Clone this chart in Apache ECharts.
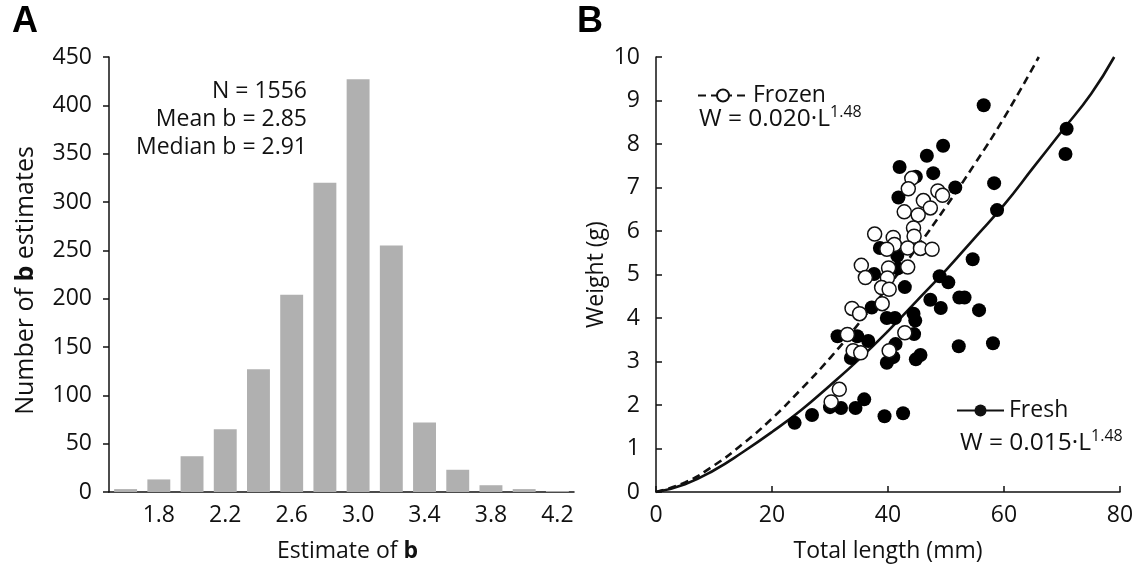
<!DOCTYPE html>
<html>
<head>
<meta charset="utf-8">
<script src="https://cdn.jsdelivr.net/npm/echarts@6/dist/echarts.min.js"></script>
<style>
  html, body { margin: 0; padding: 0; background: #fff; }
  #chart { width: 1140px; height: 568px; }
</style>
</head>
<body>
<div id="chart"></div>
<script>
// ---------- Panel A data (histogram of b estimates) ----------
const binLabels = ['1.6','1.8','2.0','2.2','2.4','2.6','2.8','3.0','3.2','3.4','3.6','3.8','4.0','4.2'];
const binCounts = [3, 13, 37, 65, 127, 204, 320, 427, 255, 72, 23, 7, 3, 1];
const statsLines = ['N = 1556', 'Mean b = 2.85', 'Median b = 2.91'];

// ---------- Panel B data (length-weight) ----------
// fitted curves
const frozenCurveL = [0, 5, 10, 15, 20, 25, 30, 35, 40, 45, 50, 55, 60, 66];
const frozenCurveW = [0, 0.22, 0.61, 1.11, 1.69, 2.36, 3.08, 3.88, 4.72, 5.62, 6.56, 7.55, 8.6, 10];
const freshCurveL  = [0, 5, 10, 15, 20, 25, 30, 35, 40, 45, 50, 55, 60, 65, 70, 75, 79];
const freshCurveW  = [0, 0.18, 0.5, 0.92, 1.38, 1.88, 2.45, 3.05, 3.7, 4.4, 5.1, 5.85, 6.6, 7.45, 8.3, 9.15, 10];

// observations: [total length (mm), weight (g)]
const frozenPoints = [
  [44.1,7.21],[43.5,6.97],[48.6,6.92],[49.4,6.82],[46.1,6.70],[47.3,6.53],[42.8,6.44],
  [45.2,6.37],[44.4,6.07],[44.5,5.88],[37.7,5.93],[40.9,5.85],[41.1,5.69],[43.4,5.61],
  [45.6,5.60],[47.6,5.58],[39.8,5.58],[35.4,5.21],[40.1,5.15],[43.4,5.17],[36.1,4.93],
  [39.9,4.92],[38.9,4.70],[40.2,4.66],[39.0,4.33],[33.8,4.22],[35.1,4.10],[33.0,3.62],
  [34.0,3.25],[35.3,3.20],[42.9,3.66],[40.2,3.25],[31.6,2.36],[30.2,2.07]
];
const freshPoints = [
  [56.5,8.89],[49.5,7.96],[46.7,7.73],[42.0,7.47],[47.8,7.33],[44.8,7.25],[41.8,6.77],
  [51.6,7.00],[70.8,8.35],[70.6,7.77],[58.3,7.10],[58.8,6.48],[38.6,5.61],[41.6,5.43],
  [41.7,5.14],[37.6,5.01],[42.9,4.71],[54.6,5.35],[48.9,4.96],[50.4,4.82],[47.3,4.42],
  [49.1,4.23],[52.3,4.47],[53.2,4.47],[55.7,4.18],[37.2,4.24],[39.8,4.00],[41.2,4.00],
  [44.4,4.10],[44.7,3.94],[44.5,3.63],[41.3,3.40],[36.6,3.47],[34.7,3.58],[31.3,3.58],
  [33.6,3.08],[40.9,3.10],[39.8,2.97],[44.8,3.05],[45.6,3.15],[52.2,3.35],[58.1,3.42],
  [23.9,1.59],[26.9,1.77],[30.0,1.95],[31.9,1.93],[34.4,1.93],[35.9,2.13],[39.4,1.74],[42.6,1.81]
];
const xTicksB = { min: 0, max: 80, interval: 20 };
const yTicksB = { min: 0, max: 10, interval: 1 };
const yTicksA = { min: 0, max: 450, interval: 50 };

const FONT = '"Open Sans"';
const FS = 23;
const INK = '#111';
const zip = (a, b) => a.map((v, i) => [v, b[i]]);

const axisLineStyle = { color: INK, width: 1.5 };

const option = {
  animation: false,
  backgroundColor: '#fff',
  textStyle: { fontFamily: FONT, color: INK },
  grid: [
    { left: 109, top: 57, width: 465, height: 437 },
    { left: 656, top: 57, width: 464, height: 436 }
  ],
  xAxis: [
    {
      type: 'category', gridIndex: 0, data: binLabels,
      axisLine: { lineStyle: axisLineStyle },
      axisTick: { interval: 0, length: 8, lineStyle: axisLineStyle },
      axisLabel: { interval: (i) => i % 2 === 1, fontSize: FS, color: INK, fontFamily: FONT, margin: 12 },
      name: 'Estimate of {b|b}', nameLocation: 'middle', nameGap: 48,
      nameTextStyle: { fontSize: FS, color: INK, fontFamily: FONT, padding: [0, 0, 0, 12],
        rich: { b: { fontSize: FS, fontWeight: 'bold', color: INK, fontFamily: FONT } } }
    },
    {
      type: 'value', gridIndex: 1, min: xTicksB.min, max: xTicksB.max, interval: xTicksB.interval,
      axisLine: { show: true, onZero: false, lineStyle: axisLineStyle },
      axisTick: { show: true, inside: true, length: 6, lineStyle: axisLineStyle },
      splitLine: { show: false },
      axisLabel: { fontSize: FS, color: INK, fontFamily: FONT, margin: 12 },
      name: 'Total length (mm)', nameLocation: 'middle', nameGap: 48,
      nameTextStyle: { fontSize: FS, color: INK, fontFamily: FONT }
    }
  ],
  yAxis: [
    {
      type: 'value', gridIndex: 0, min: yTicksA.min, max: yTicksA.max, interval: yTicksA.interval,
      axisLine: { show: true, lineStyle: axisLineStyle },
      axisTick: { show: true, length: 6, lineStyle: axisLineStyle },
      splitLine: { show: false },
      axisLabel: { fontSize: FS, color: INK, fontFamily: FONT, margin: 17 },
      name: 'Number of {b|b} estimates', nameLocation: 'middle', nameGap: 71,
      nameTextStyle: { fontSize: 25, color: INK, fontFamily: FONT, padding: [0, 12, 0, 0],
        rich: { b: { fontSize: 25, fontWeight: 'bold', color: INK, fontFamily: FONT } } }
    },
    {
      type: 'value', gridIndex: 1, min: yTicksB.min, max: yTicksB.max, interval: yTicksB.interval,
      axisLine: { show: true, onZero: false, lineStyle: axisLineStyle },
      axisTick: { show: true, inside: true, length: 6, lineStyle: axisLineStyle },
      splitLine: { show: false },
      axisLabel: { fontSize: FS, color: INK, fontFamily: FONT, margin: 16 },
      name: 'Weight (g)', nameLocation: 'middle', nameGap: 48,
      nameTextStyle: { fontSize: FS, color: INK, fontFamily: FONT }
    }
  ],
  legend: [
    {
      data: ['Frozen'], left: 697, top: 84, padding: 0, itemWidth: 50, itemHeight: 15,
      selectedMode: false, textStyle: { fontSize: FS, color: INK, fontFamily: FONT }
    },
    {
      data: ['Fresh'], left: 956, top: 399, padding: 0, itemWidth: 47, itemHeight: 15,
      selectedMode: false, textStyle: { fontSize: FS, color: INK, fontFamily: FONT }
    }
  ],
  graphic: [
    { type: 'text', x: 12, y: 4, style: { text: 'A', font: 'bold 36px "Liberation Sans"', fill: '#000' } },
    { type: 'text', x: 577, y: 4, style: { text: 'B', font: 'bold 36px "Liberation Sans"', fill: '#000' } },
    { type: 'text', x: 307, y: 77, style: {
        text: statsLines.join('\n'), font: FS + 'px ' + FONT, fill: INK,
        textAlign: 'right', lineHeight: 28.3 } },
    { type: 'text', x: 699, y: 104, style: {
        text: '{m|W = 0.020·L}{s|1.48}',
        rich: { m: { fontSize: 24.5, fontFamily: FONT, fill: INK, lineHeight: 31 },
                s: { fontSize: 16, fontFamily: FONT, fill: INK, verticalAlign: 'top' } } } },
    { type: 'text', x: 960, y: 428, style: {
        text: '{m|W = 0.015·L}{s|1.48}',
        rich: { m: { fontSize: 24.5, fontFamily: FONT, fill: INK, lineHeight: 31 },
                s: { fontSize: 16, fontFamily: FONT, fill: INK, verticalAlign: 'top' } } } }
  ],
  series: [
    {
      type: 'bar', xAxisIndex: 0, yAxisIndex: 0, data: binCounts,
      barCategoryGap: '31%', itemStyle: { color: '#b0b0b0' }, silent: true
    },
    {
      type: 'line', name: 'Frozen', xAxisIndex: 1, yAxisIndex: 1,
      data: zip(frozenCurveL, frozenCurveW), smooth: true,
      showSymbol: false, symbol: 'emptyCircle', symbolSize: 12,
      itemStyle: { color: INK },
      lineStyle: { color: INK, width: 2.6, type: [8, 5] }, z: 2
    },
    {
      type: 'line', name: 'Fresh', xAxisIndex: 1, yAxisIndex: 1,
      data: zip(freshCurveL, freshCurveW), smooth: true,
      showSymbol: false, symbol: 'circle', symbolSize: 12,
      itemStyle: { color: INK },
      lineStyle: { color: INK, width: 2.6 }, z: 2
    },
    {
      type: 'scatter', name: 'Fresh obs', xAxisIndex: 1, yAxisIndex: 1,
      data: freshPoints, symbolSize: 14, itemStyle: { color: '#000', opacity: 1 }, z: 3
    },
    {
      type: 'scatter', name: 'Frozen obs', xAxisIndex: 1, yAxisIndex: 1,
      data: frozenPoints, symbolSize: 14,
      itemStyle: { color: '#fff', borderColor: INK, borderWidth: 1.5, opacity: 1 }, z: 4
    }
  ]
};

const chart = echarts.init(document.getElementById('chart'), null, { renderer: 'canvas' });
chart.setOption(option);
</script>
</body>
</html>
